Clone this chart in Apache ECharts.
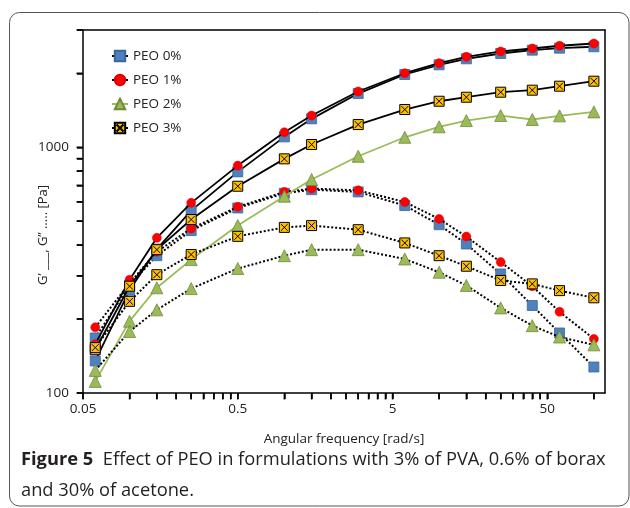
<!DOCTYPE html>
<html>
<head>
<meta charset="utf-8">
<script src="https://cdn.jsdelivr.net/npm/echarts@6/dist/echarts.min.js"></script>
<style>
html,body{margin:0;padding:0;background:#fff;}
#c{width:630px;height:508px;}
</style>
</head>
<body>
<div id="c"></div>
<script>
// ---- data ----
var freq = [0.06, 0.1, 0.15, 0.25, 0.5, 1, 1.5, 3, 6, 10, 15, 25, 40, 60, 100];
var seriesNames = ['PEO 0%', 'PEO 1%', 'PEO 2%', 'PEO 3%'];
// storage modulus G'
var gp0 = [135, 262, 385, 552, 794, 1102, 1305, 1654, 1977, 2165, 2290, 2407, 2483, 2530, 2564];
var gp1 = [158, 289, 428, 594, 842, 1151, 1346, 1686, 2001, 2198, 2334, 2453, 2523, 2588, 2644];
var gp2 = [111.5, 196, 268, 349, 480, 632, 739, 919, 1098, 1211, 1284, 1346, 1297, 1342, 1393];
var gp3 = [150, 272, 383, 508, 694, 897, 1026, 1237, 1424, 1539, 1598, 1675, 1707, 1772, 1857];
// loss modulus G''
var gpp0 = [167.5, 275, 362, 458, 566, 650, 672, 658, 579, 484, 404, 305, 227, 175.5, 127.6];
var gpp1 = [185, 280, 376, 467, 572, 658, 679, 668, 599, 511, 433, 341, 272, 214, 166];
var gpp2 = [123.6, 178, 218, 266, 321, 362, 383, 383, 351, 310, 274, 222, 188, 169, 157];
var gpp3 = [153, 236, 303, 366, 434, 472, 480, 462, 408, 362, 328, 287, 278, 261, 244];
// axis ranges and ticks
var xMin = 0.05, xMax = 118, yMin = 100, yMax = 3000;
var xLabelValues = [0.05, 0.5, 5, 50];
var xLabelTexts = ['0.05', '0.5', '5', '50'];
var xTickValues = [0.05,0.1,0.15,0.2,0.25,0.3,0.35,0.4,0.45,0.5,1,1.5,2,2.5,3,3.5,4,4.5,5,10,15,20,25,30,35,40,45,50,100];
var yLabelValues = [100, 1000];
var yLabelTexts = ['100', '1000'];
var yTickValues = [100,200,300,400,500,600,700,800,900,1000,2000,3000];

function pairs(ys) { return freq.map(function (f, i) { return [f, ys[i]]; }); }

var FONT = 'Open Sans';
var xSym = 'path://M0,0 L10,0 L10,10 L0,10 Z M1.6,1.6 L8.4,8.4 M8.4,1.6 L1.6,8.4';

var styles = [
  { symbol: 'rect', size: 10, item: { color: '#4F81BD', borderColor: '#3A679C', borderWidth: 0.8 }, line: '#000' },
  { symbol: 'circle', size: 9, item: { color: '#FF0000', borderColor: '#E00000', borderWidth: 0.5 }, line: '#000' },
  { symbol: 'triangle', size: 12, item: { color: '#9BBB59', borderColor: '#6E8A3C', borderWidth: 0.8 }, line: '#9BBB59' },
  { symbol: xSym, size: 10, item: { color: '#FFC000', borderColor: '#000', borderWidth: 1 }, line: '#000' }
];
var gpData = [gp0, gp1, gp2, gp3];
var gppData = [gpp0, gpp1, gpp2, gpp3];

var series = [];
for (var i = 0; i < 4; i++) {
  var s = styles[i];
  series.push({
    name: seriesNames[i], type: 'line', data: pairs(gpData[i]), xAxisIndex: 0, yAxisIndex: 0,
    symbol: s.symbol, symbolSize: s.size, showAllSymbol: true,
    itemStyle: s.item, lineStyle: { color: s.line, width: 1.8 },
    z: 2 + i * 2
  });
  series.push({
    name: seriesNames[i] + ' G\u2033', type: 'line', data: pairs(gppData[i]), xAxisIndex: 0, yAxisIndex: 0,
    symbol: s.symbol, symbolSize: s.size, showAllSymbol: true,
    itemStyle: s.item, lineStyle: { color: '#000', width: 2, type: 'dotted' },
    z: 3 + i * 2
  });
}
// outward tick marks, placed through the log axes at the tick values
series.push({
  name: 'xticks', type: 'scatter', xAxisIndex: 0, yAxisIndex: 0, silent: true, clip: false,
  data: xTickValues.map(function (v) { return [v, yMin]; }),
  symbol: 'rect', symbolSize: [1.5, 6], symbolOffset: [0, 3.5],
  itemStyle: { color: '#000', opacity: 1 }, z: 20
});
series.push({
  name: 'yticks', type: 'scatter', xAxisIndex: 0, yAxisIndex: 0, silent: true, clip: false,
  data: yTickValues.map(function (v) { return [xMin, v]; }),
  symbol: 'rect', symbolSize: [6, 1.5], symbolOffset: [-3.5, 0],
  itemStyle: { color: '#000', opacity: 1 }, z: 20
});

function fmt(values, texts) {
  return function (v) {
    for (var k = 0; k < values.length; k++) if (Math.abs(values[k] - v) / values[k] < 1e-6) return texts[k];
    return '';
  };
}
var borderLine = { show: true, lineStyle: { color: '#000', width: 1.5 } };

var chart = echarts.init(document.getElementById('c'), null, { renderer: 'canvas' });
chart.setOption({
  animation: false,
  backgroundColor: '#fff',
  grid: { left: 83, right: 25, top: 30, bottom: 115 },
  legend: {
    data: seriesNames, orient: 'vertical', left: 111, top: 49,
    itemWidth: 16, itemHeight: 13, itemGap: 10, padding: 0,
    textStyle: { fontFamily: FONT, fontSize: 13.5, color: '#222' }
  },
  xAxis: [{
    type: 'log', logBase: 10, min: xMin, max: xMax, position: 'bottom',
    name: 'Angular frequency [rad/s]', nameLocation: 'middle', nameGap: 39,
    nameTextStyle: { fontFamily: FONT, fontSize: 13.5, color: '#222' },
    axisLine: borderLine,
    axisTick: { show: true, length: 6, customValues: xTickValues, lineStyle: { color: '#000', width: 1.5 } },
    axisLabel: { customValues: xLabelValues, margin: 9, fontFamily: FONT, fontSize: 13.5, color: '#222', formatter: fmt(xLabelValues, xLabelTexts) },
    splitLine: { show: false }
  }, {
    type: 'log', logBase: 10, min: xMin, max: xMax, position: 'top',
    axisLine: borderLine, axisTick: { show: false }, axisLabel: { show: false }, splitLine: { show: false }
  }],
  yAxis: [{
    type: 'log', logBase: 10, min: yMin, max: yMax, position: 'left',
    axisLine: borderLine,
    axisTick: { show: true, length: 6, customValues: yTickValues, lineStyle: { color: '#000', width: 1.5 } },
    axisLabel: { customValues: yLabelValues, margin: 14, fontFamily: FONT, fontSize: 13.5, color: '#222', formatter: fmt(yLabelValues, yLabelTexts) },
    splitLine: { show: false }
  }, {
    type: 'log', logBase: 10, min: yMin, max: yMax, position: 'right',
    axisLine: borderLine, axisTick: { show: false }, axisLabel: { show: false }, splitLine: { show: false }
  }],
  graphic: [
    { type: 'rect', shape: { x: 9.5, y: 12.5, width: 619.5, height: 493.5, r: 10 }, style: { fill: 'none', stroke: '#555', lineWidth: 1 }, silent: true, z: -1 },
    { type: 'text', x: 43, y: 235, rotation: Math.PI / 2,
      style: { text: 'G\u2019 ___, G\u2019\u2019 \u2026.. [Pa]', fontFamily: FONT, fontSize: 13, fill: '#222', textAlign: 'center', textVerticalAlign: 'middle' } },
    { type: 'text', left: 21, top: 444,
      style: { text: '{b|Figure 5}  Effect of PEO in formulations with 3% of PVA, 0.6% of borax\nand 30% of acetone.',
        fontFamily: FONT, fontSize: 18.3, fill: '#231F20', lineHeight: 31,
        rich: { b: { fontFamily: FONT, fontSize: 18.3, fontWeight: 'bold', fill: '#231F20', lineHeight: 31 } } } }
  ],
  series: series
});
</script>
</body>
</html>
